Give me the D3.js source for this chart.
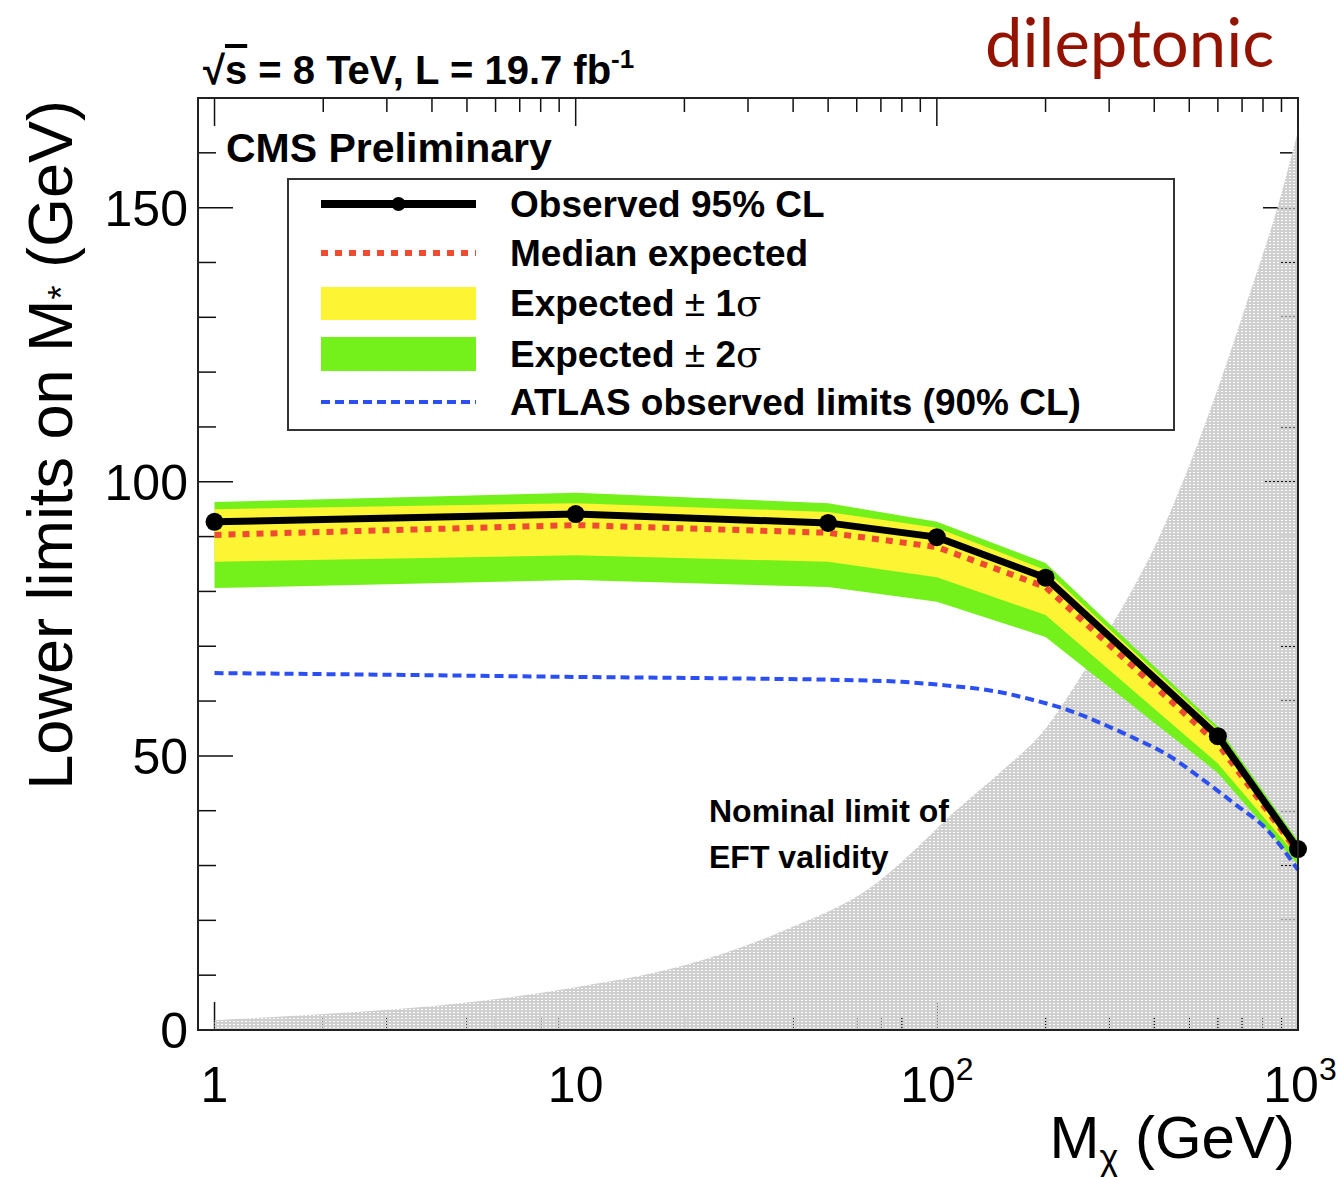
<!DOCTYPE html>
<html>
<head>
<meta charset="UTF-8">
<title>CMS dileptonic limits</title>
<script src="https://d3js.org/d3.v7.min.js"></script>
<style>
  body {margin: 0; background: white;}
  text {font-family: "Liberation Sans", Arial, Helvetica, sans-serif; fill: black;}
  .bold {font-weight: bold;}
</style>
</head>
<body>
<div id="chart"></div>
<script>
// observed / expected limits at the signal mass points
var massPoints   = [1, 10, 50, 100, 200, 600, 1000];
var observed     = [92.7, 94.1, 92.5, 89.9, 82.5, 53.6, 33.0];
var expected     = [90.3, 92.1, 90.7, 88.1, 80.8, 52.2, 32.4];
var oneSigmaLow  = [85.4, 86.6, 85.4, 82.6, 75.7, 48.6, 31.5];
var oneSigmaHigh = [95.0, 96.1, 94.5, 91.6, 83.9, 54.7, 34.0];
var twoSigmaLow  = [80.6, 82.1, 80.8, 78.1, 71.7, 46.9, 30.1];
var twoSigmaHigh = [96.3, 98.0, 96.1, 92.7, 85.2, 55.3, 34.5];

// ATLAS observed 90% CL curve
var atlasMass  = [1, 3, 10, 30, 50, 80, 100, 150, 185, 230, 284, 350, 435, 537, 663, 822, 1000];
var atlasLimit = [65.1, 64.8, 64.4, 64.1, 63.9, 63.5, 63.0, 61.6, 60.2, 58.4, 56.0, 53.3, 50.2, 46.0, 41.4, 36.5, 29.2];

// nominal limit of EFT validity (shaded)
var eftMass  = [1, 2, 5, 10, 20, 37, 70, 86, 112, 150, 200, 245, 300, 400, 600, 724, 877, 1000];
var eftLimit = [1.8, 2.9, 5.0, 7.8, 11.8, 17.9, 27.4, 32.6, 39.8, 47, 55, 63.5, 73, 88, 117, 133, 150, 164];

var yMajor = [0, 50, 100, 150];
var xMajor = [1, 10, 100, 1000];
var xLabels = [["1", ""], ["10", ""], ["10", "2"], ["10", "3"]];

var legendItems = ["Observed 95% CL", "Median expected", "Expected", "Expected", "ATLAS observed limits (90% CL)"];

var W = 1338, H = 1177;
var pLeft = 198, pRight = 1298, pTop = 98, pBottom = 1030;

var x = d3.scaleLog().domain([0.9, 1000]).range([pLeft, pRight]);
var y = d3.scaleLinear().domain([0, 170]).range([pBottom, pTop]);

var svg = d3.select("#chart").append("svg")
    .attr("width", W).attr("height", H);

var defs = svg.append("defs");
var pat = defs.append("pattern")
    .attr("id", "dots").attr("patternUnits", "userSpaceOnUse")
    .attr("width", 4).attr("height", 3);
pat.append("path")
    .attr("d", "M0,0h4v3h-4z M1,1h2v1h-2z")
    .attr("fill", "#cfcfcf").attr("fill-rule", "evenodd");

svg.append("rect").attr("width", W).attr("height", H).attr("fill", "white");

// ticks
var yMinor = d3.range(0, 171, 10).filter(function(d) { return yMajor.indexOf(d) < 0; });
var xMinor = [];
[1, 10, 100].forEach(function(dec) {
  for (var k = 2; k <= 9; k++) xMinor.push(dec * k);
});

var ticks = svg.append("g").attr("stroke", "#111").attr("stroke-width", 1.5);
function yTick(v, len) {
  ticks.append("line").attr("x1", pLeft).attr("x2", pLeft + len).attr("y1", y(v)).attr("y2", y(v));
  ticks.append("line").attr("x1", pRight).attr("x2", pRight - len).attr("y1", y(v)).attr("y2", y(v));
}
function xTick(v, len) {
  ticks.append("line").attr("x1", x(v)).attr("x2", x(v)).attr("y1", pBottom).attr("y2", pBottom - len);
  ticks.append("line").attr("x1", x(v)).attr("x2", x(v)).attr("y1", pTop).attr("y2", pTop + len);
}
yMajor.forEach(function(v) { yTick(v, 35); });
yMinor.forEach(function(v) { yTick(v, 18); });
xMajor.forEach(function(v) { xTick(v, 28); });
xMinor.forEach(function(v) { xTick(v, 14); });

// EFT validity region
var eftArea = d3.area()
    .x(function(d) { return x(d[0]); })
    .y0(y(0))
    .y1(function(d) { return y(d[1]); })
    .curve(d3.curveMonotoneX);
svg.append("path")
    .datum(d3.zip(eftMass, eftLimit))
    .attr("d", eftArea)
    .attr("fill", "url(#dots)");

// expected bands
function band(lo, hi, color) {
  var a = d3.area()
      .x(function(d, i) { return x(massPoints[i]); })
      .y0(function(d, i) { return y(lo[i]); })
      .y1(function(d, i) { return y(hi[i]); });
  svg.append("path").datum(massPoints).attr("d", a).attr("fill", color);
}
band(twoSigmaLow, twoSigmaHigh, "#74f01a");
band(oneSigmaLow, oneSigmaHigh, "#fdf533");

// ATLAS line
var atlasLine = d3.line()
    .x(function(d) { return x(d[0]); })
    .y(function(d) { return y(d[1]); })
    .curve(d3.curveMonotoneX);
svg.append("path")
    .datum(d3.zip(atlasMass, atlasLimit))
    .attr("d", atlasLine)
    .attr("fill", "none").attr("stroke", "#2b4ff2")
    .attr("stroke-width", 4).attr("stroke-dasharray", "9,5");

var ptLine = d3.line()
    .x(function(d) { return x(d[0]); })
    .y(function(d) { return y(d[1]); });

// median expected
svg.append("path")
    .datum(d3.zip(massPoints, expected))
    .attr("d", ptLine)
    .attr("fill", "none").attr("stroke", "#ef4a32")
    .attr("stroke-width", 6).attr("stroke-dasharray", "7,7");

// observed
svg.append("path")
    .datum(d3.zip(massPoints, observed))
    .attr("d", ptLine)
    .attr("fill", "none").attr("stroke", "black")
    .attr("stroke-width", 7);
svg.selectAll("circle.obs")
    .data(d3.zip(massPoints, observed))
    .enter().append("circle")
    .attr("class", "obs")
    .attr("cx", function(d) { return x(d[0]); })
    .attr("cy", function(d) { return y(d[1]); })
    .attr("r", 9).attr("fill", "black");

// frame
svg.append("rect")
    .attr("x", pLeft).attr("y", pTop)
    .attr("width", pRight - pLeft).attr("height", pBottom - pTop)
    .attr("fill", "none").attr("stroke", "#222").attr("stroke-width", 2);

// tick labels
svg.selectAll("text.ylab")
    .data(yMajor)
    .enter().append("text")
    .attr("class", "ylab")
    .attr("x", 188)
    .attr("y", function(d) { return y(d) + 18; })
    .attr("text-anchor", "end")
    .attr("font-size", 50)
    .text(function(d) { return d; });

var xl = svg.selectAll("text.xlab")
    .data(xMajor)
    .enter().append("text")
    .attr("class", "xlab")
    .attr("x", function(d, i) { return x(d) + (i == 3 ? 2 : 0); })
    .attr("y", 1102)
    .attr("text-anchor", "middle")
    .attr("font-size", 50);
xl.append("tspan").text(function(d, i) { return xLabels[i][0]; });
xl.append("tspan")
    .attr("font-size", 32).attr("dy", -22)
    .text(function(d, i) { return xLabels[i][1]; });

// axis titles
var xt = svg.append("text")
    .attr("x", 1295).attr("y", 1158)
    .attr("text-anchor", "end").attr("font-size", 60);
xt.append("tspan").text("M");
xt.append("tspan").attr("font-size", 36).attr("dy", 12).text("\u03c7");
xt.append("tspan").attr("dy", -12).text(" (GeV)");

var yt = svg.append("text")
    .attr("transform", "translate(72,100) rotate(-90)")
    .attr("text-anchor", "end").attr("font-size", 63);
yt.append("tspan").text("Lower limits on M");
yt.append("tspan").attr("font-size", 36).attr("dy", 2).text("*");
yt.append("tspan").attr("dy", -2).text(" (GeV)");

// header texts
var hdr = svg.append("text").attr("class", "bold")
    .attr("x", 203).attr("y", 84).attr("font-size", 40);
hdr.append("tspan").text("\u221a");
hdr.append("tspan").attr("text-decoration", "overline").text("s");
hdr.append("tspan").text(" = 8 TeV, L = 19.7 fb");
hdr.append("tspan").attr("font-size", 26).attr("dy", -16).text("-1");

svg.append("text").attr("class", "bold")
    .attr("x", 226).attr("y", 162).attr("font-size", 41)
    .text("CMS Preliminary");

svg.append("text")
    .attr("x", 985).attr("y", 67)
    .attr("font-size", 67)
    .style("font-family", "Lato, 'Open Sans', sans-serif")
    .style("fill", "#931200")
    .text("dileptonic");

svg.append("text").attr("class", "bold")
    .attr("x", 709).attr("y", 822).attr("font-size", 32)
    .text("Nominal limit of");
svg.append("text").attr("class", "bold")
    .attr("x", 709).attr("y", 868).attr("font-size", 32)
    .text("EFT validity");

// legend
var lg = svg.append("g");
lg.append("rect")
    .attr("x", 288).attr("y", 179).attr("width", 886).attr("height", 251)
    .attr("fill", "white").attr("stroke", "#333").attr("stroke-width", 2);

var rowY = [204, 253, 303, 354, 402];
var sx0 = 321, sx1 = 476;

lg.append("line").attr("x1", sx0).attr("x2", sx1).attr("y1", rowY[0]).attr("y2", rowY[0])
    .attr("stroke", "black").attr("stroke-width", 8);
lg.append("circle").attr("cx", (sx0 + sx1) / 2).attr("cy", rowY[0]).attr("r", 7).attr("fill", "black");
lg.append("line").attr("x1", sx0).attr("x2", sx1).attr("y1", rowY[1]).attr("y2", rowY[1])
    .attr("stroke", "#ef4a32").attr("stroke-width", 6).attr("stroke-dasharray", "7,7");
lg.append("rect").attr("x", sx0).attr("y", rowY[2] - 16).attr("width", sx1 - sx0).attr("height", 33)
    .attr("fill", "#fdf533");
lg.append("rect").attr("x", sx0).attr("y", rowY[3] - 17).attr("width", sx1 - sx0).attr("height", 34)
    .attr("fill", "#74f01a");
lg.append("line").attr("x1", sx0).attr("x2", sx1).attr("y1", rowY[4]).attr("y2", rowY[4])
    .attr("stroke", "#2b4ff2").attr("stroke-width", 4).attr("stroke-dasharray", "9,5");

var lt = lg.selectAll("text.leg")
    .data(legendItems)
    .enter().append("text")
    .attr("class", "leg bold")
    .attr("x", 510)
    .attr("y", function(d, i) { return rowY[i] + 13; })
    .attr("font-size", 37);
lt.append("tspan").text(function(d) { return d; });
lt.filter(function(d, i) { return i == 2 || i == 3; })
  .append("tspan")
    .style("font-weight", "normal")
    .text(" \u00b1 ");
lt.filter(function(d, i) { return i == 2 || i == 3; })
  .append("tspan")
    .text(function(d, i) { return i + 1; });
lt.filter(function(d, i) { return i == 2 || i == 3; })
  .append("tspan")
    .style("font-weight", "normal")
    .style("font-family", "'DejaVu Serif', serif")
    .text("\u03c3");
</script>
</body>
</html>
